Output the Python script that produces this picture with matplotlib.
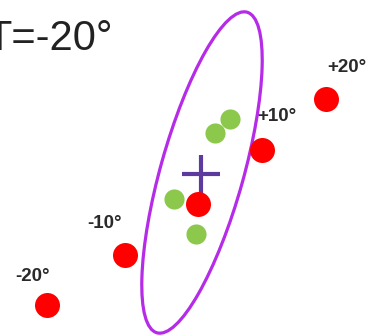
import matplotlib
matplotlib.use("Agg")
import matplotlib.pyplot as plt
from matplotlib.patches import Ellipse

plt.rcParams['font.family'] = ['Liberation Sans', 'DejaVu Sans']

# Data (scene units, y grows downward)
title = "T=-20°"
red_x = [47, 125, 198, 262, 326]
red_y = [305, 255, 204, 150, 99]
red_labels = ["-20°", "-10°", "", "+10°", "+20°"]
green_x = [215, 230, 174, 196]
green_y = [133, 119, 199, 234]
cross_x = [201]
cross_y = [174]
ellipse_center = (202, 172.5)
ellipse_length = 333
ellipse_breadth = 83
ellipse_angle = -74.3

W, H = 368, 336
fig = plt.figure(figsize=(W / 100, H / 100), dpi=100)
ax = fig.add_axes([0, 0, 1, 1])
ax.set_xlim(0, W)
ax.set_ylim(H, 0)
ax.set_aspect('auto')
ax.axis('off')

ell = Ellipse(ellipse_center, ellipse_length, ellipse_breadth, angle=ellipse_angle,
              fill=False, edgecolor='#b52be8', linewidth=2.3, zorder=1)
ax.add_patch(ell)

ax.plot(green_x, green_y, 'o', color='#8cc84b', markersize=14.5, markeredgewidth=0, zorder=2)
ax.plot(cross_x, cross_y, '+', color='#5c3a9e', markersize=27, markeredgewidth=3, zorder=3)
ax.plot(red_x, red_y, 'o', color='#ff0000', markersize=18, markeredgewidth=0, zorder=4)

offsets = [(-10.8, 20.2), (-14.4, 23), (0, 0), (10.8, 23.8), (15.1, 23)]
for x, y, lab, off in zip(red_x, red_y, red_labels, offsets):
    if lab:
        ax.annotate(lab, (x, y), xytext=off, textcoords='offset points',
                    ha='center', va='center', fontsize=13.5, fontweight='bold',
                    color='#2a2a2a', zorder=5)

ax.text(-14, 50, title, ha='left', va='baseline', fontsize=30, color='#222222')

fig.savefig('out.png', dpi=100)
